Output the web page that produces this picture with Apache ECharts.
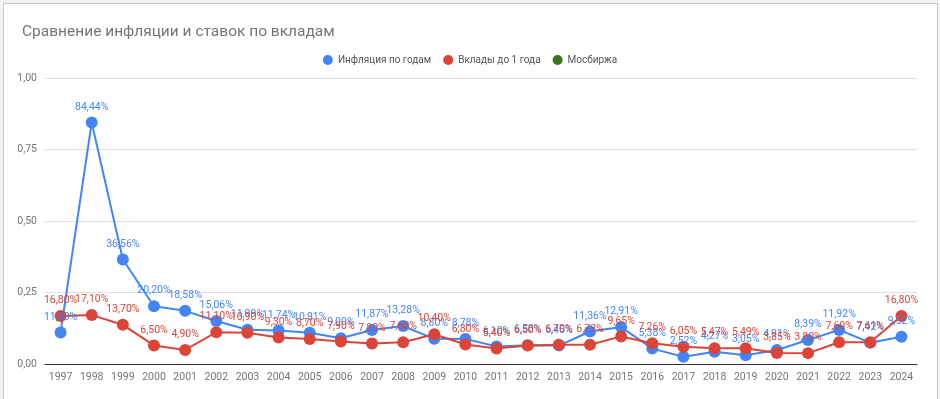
<!DOCTYPE html>
<html>
<head>
<meta charset="utf-8">
<script src="https://cdn.jsdelivr.net/npm/echarts@6/dist/echarts.min.js"></script>
<style>
  html, body { margin: 0; padding: 0; background: #f3f3f3; }
  #frame { position: absolute; left: 3px; top: 3px; width: 933px; height: 400px; background: #fff; border-left: 1px solid #c8c8c8; border-top: 1px solid #c8c8c8; border-right: 1px solid #c8c8c8; }
  #chart { position: absolute; left: 0; top: 0; width: 940px; height: 399px; }
</style>
</head>
<body>
<div id="frame"></div>
<div id="chart"></div>
<script>
const years = ['1997','1998','1999','2000','2001','2002','2003','2004','2005','2006','2007','2008','2009','2010','2011','2012','2013','2014','2015','2016','2017','2018','2019','2020','2021','2022','2023','2024']
const inflation = [0.1103,0.8444,0.3656,0.2020,0.1858,0.1506,0.1199,0.1174,0.1091,0.0900,0.1187,0.1328,0.0880,0.0878,0.0610,0.0658,0.0645,0.1136,0.1291,0.0538,0.0252,0.0427,0.0305,0.0491,0.0839,0.1192,0.0742,0.0952]
const deposits = [0.1680,0.1710,0.1370,0.0650,0.0490,0.1110,0.1090,0.0930,0.0870,0.0790,0.0720,0.0760,0.1040,0.0680,0.0540,0.0650,0.0670,0.0672,0.0965,0.0726,0.0605,0.0547,0.0549,0.0385,0.0380,0.0760,0.0761,0.1680]
const moex = []
const yTicks = [0, 0.25, 0.5, 0.75, 1]

const FONT = 'Roboto'
const fmtPct = v => (v * 100).toFixed(2).replace('.', ',') + '%'
const fmtAxis = v => v.toFixed(2).replace('.', ',')

function lineSeries(name, data, color) {
  return {
    name,
    type: 'line',
    data,
    symbol: 'circle',
    symbolSize: 12,
    lineStyle: { color, width: 2 },
    itemStyle: { color },
    label: {
      show: true,
      position: 'top',
      distance: 4,
      color,
      fontSize: 10.5,
      fontFamily: FONT,
      formatter: p => fmtPct(p.value)
    }
  }
}

const chart = echarts.init(document.getElementById('chart'))
chart.setOption({
  animation: false,
  textStyle: { fontFamily: FONT },
  title: {
    text: 'Сравнение инфляции и ставок по вкладам',
    left: 17,
    top: 19,
    textStyle: { fontSize: 15.5, fontWeight: 'normal', color: '#757575', fontFamily: FONT }
  },
  legend: {
    top: 50,
    left: 'center',
    icon: 'circle',
    itemWidth: 10,
    itemHeight: 10,
    itemGap: 12,
    textStyle: { fontSize: 10, color: '#555', fontFamily: FONT },
    data: ['Инфляция по годам', 'Вклады до 1 года', 'Мосбиржа']
  },
  grid: { left: 45, right: 23, top: 78, bottom: 35, containLabel: false },
  xAxis: {
    type: 'category',
    data: years,
    boundaryGap: true,
    axisLine: { lineStyle: { color: '#333', width: 1 } },
    axisTick: { show: false },
    axisLabel: { color: '#757575', fontSize: 10.5, margin: 8, interval: 0, fontFamily: FONT }
  },
  yAxis: {
    type: 'value',
    min: yTicks[0],
    max: yTicks[yTicks.length - 1],
    interval: 0.25,
    axisLine: { show: false },
    axisTick: { show: false },
    splitLine: { lineStyle: { color: '#e0e0e0' } },
    axisLabel: { color: '#757575', fontSize: 10.5, margin: 8, formatter: fmtAxis, fontFamily: FONT }
  },
  series: [
    lineSeries('Инфляция по годам', inflation, '#4285f4'),
    lineSeries('Вклады до 1 года', deposits, '#db4437'),
    lineSeries('Мосбиржа', moex, '#38761d')
  ]
})
</script>
</body>
</html>
